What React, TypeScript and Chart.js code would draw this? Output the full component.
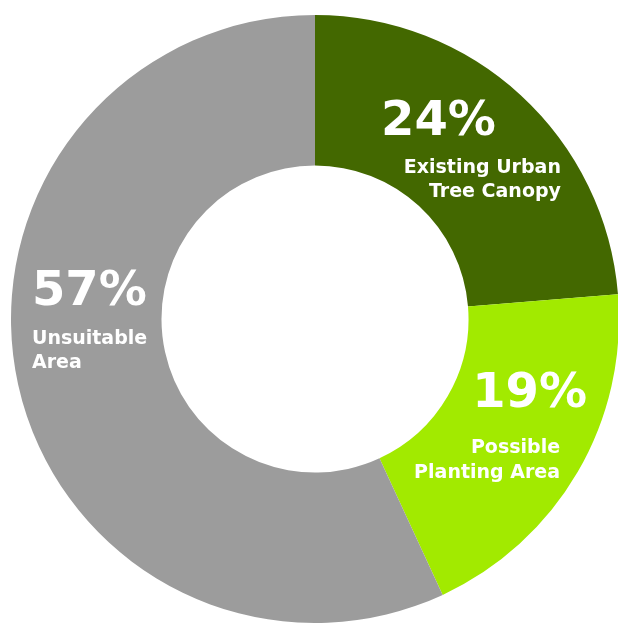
import React, { useEffect, useRef } from "react";
import { Chart, registerables } from "chart.js";

Chart.register(...registerables);

const categories = ["Existing Urban Tree Canopy", "Possible Planting Area", "Unsuitable Area"];
const values = [23.7, 19.4, 56.9];
const percentLabels = ["24%", "19%", "57%"];
const nameLines = [["Existing Urban", "Tree Canopy"], ["Possible", "Planting Area"], ["Unsuitable", "Area"]];
const colors = ["#436800", "#a2ea00", "#9c9c9c"];

// label placement relative to chart centre, in units of the outer radius
const labelLayout = [
  { px: 0.406, py: -0.606, pAlign: "center", lx: 0.809, lAlign: "right", ly: [-0.48, -0.401] },
  { px: 0.895, py: 0.289, pAlign: "right", lx: 0.806, lAlign: "right", ly: [0.44, 0.523] },
  { px: -0.931, py: -0.046, pAlign: "left", lx: -0.931, lAlign: "left", ly: [0.082, 0.161] },
];

const FONT = '"DejaVu Sans", sans-serif';

const labelPlugin = {
  id: "sliceLabels",
  afterDatasetsDraw(chart: any) {
    const meta = chart.getDatasetMeta(0);
    const ctx = chart.ctx;
    ctx.save();
    ctx.fillStyle = "#ffffff";
    ctx.textBaseline = "alphabetic";
    meta.data.forEach((arc: any, i: number) => {
      const { x, y, outerRadius } = arc.getProps(["x", "y", "outerRadius"], true);
      const r = outerRadius;
      const L = labelLayout[i];
      ctx.font = `bold 48px ${FONT}`;
      ctx.textAlign = L.pAlign;
      ctx.fillText(percentLabels[i], x + L.px * r, y + L.py * r);
      ctx.font = `bold 19px ${FONT}`;
      ctx.textAlign = L.lAlign;
      nameLines[i].forEach((line, j) => {
        ctx.fillText(line, x + L.lx * r, y + L.ly[j] * r);
      });
    });
    ctx.restore();
  },
};

export default function App() {
  const ref = useRef<HTMLCanvasElement | null>(null);
  useEffect(() => {
    if (!ref.current) return;
    const chart = new Chart(ref.current, {
      type: "doughnut",
      data: {
        labels: categories,
        datasets: [
          {
            data: values,
            backgroundColor: colors,
            borderWidth: 0,
            hoverOffset: 0,
          },
        ],
      },
      options: {
        animation: false,
        responsive: true,
        maintainAspectRatio: false,
        cutout: "50.5%",
        layout: { padding: 0 },
        plugins: { legend: { display: false }, tooltip: { enabled: false } },
      },
      plugins: [labelPlugin],
    });
    return () => chart.destroy();
  }, []);
  return (
    <div style={{ position: "fixed", left: 0, top: 0, right: 0, bottom: 0, overflow: "hidden", background: "#fff" }}>
      <div style={{ position: "absolute", left: 11, top: 15, width: 608, height: 608 }}>
        <canvas ref={ref} />
      </div>
    </div>
  );
}
